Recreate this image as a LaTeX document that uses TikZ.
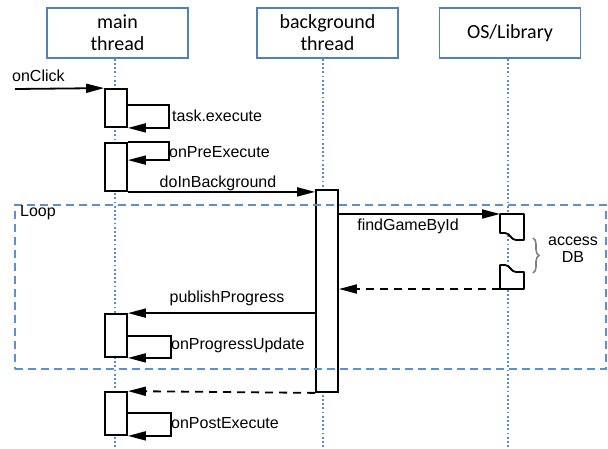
\documentclass[tikz,border=0pt]{standalone}
\usepackage{fontspec}
\setmainfont{Liberation Sans}
\newfontfamily\hdrfont{Carlito}
\usetikzlibrary{arrows.meta,decorations.pathreplacing,calc}
\definecolor{hdrblue}{RGB}{79,129,189}
\definecolor{lifeblue}{RGB}{83,141,213}
\definecolor{loopblue}{RGB}{91,145,210}
\definecolor{bracegray}{RGB}{128,128,128}
\begin{document}
\begin{tikzpicture}[x=1pt,y=-1pt,
  hdr/.style={draw=hdrblue,line width=1.6pt,fill=white,minimum width=141pt,minimum height=50pt,align=center,font=\hdrfont\fontsize{20}{22}\selectfont,inner sep=0pt},
  act/.style={draw=black,line width=1.8pt,fill=white,minimum width=22pt,inner sep=0pt},
  osact/.style={draw=black,line width=1.8pt,fill=white,line join=round},
  life/.style={draw=lifeblue,line width=1.8pt,dash pattern=on 1.8pt off 2.4pt},
  msg/.style={draw=black,line width=1.8pt,-{Triangle[length=18pt,width=9pt]}},
  ret/.style={msg,dash pattern=on 8pt off 6pt},
  lbl/.style={font=\fontsize{16}{17}\selectfont,inner sep=0pt},
  loopframe/.style={draw=loopblue,line width=1.8pt,dash pattern=on 8pt off 5pt,inner sep=0pt},
]
\useasboundingbox (0,0) rectangle (608,448);

% headers
\node[hdr] (main) at (117.5,33) {main\\thread};
\node[hdr] (bgt) at (327.5,33) {background\\thread};
\node[hdr] (os) at (510,33) {OS/Library};

% lifelines
\coordinate (mainend) at (115,448);
\coordinate (bgend) at (323,448);
\coordinate (osend) at (508,448);
\draw[life] (main.south -| mainend) -- (mainend);
\draw[life] (bgt.south -| bgend) -- (bgend);
\draw[life] (os.south -| osend) -- (osend);

% activations
\node[act,minimum height=38pt] (a1) at (116,108) {};
\node[act,minimum height=48pt] (a2) at (116,167) {};
\node[act,minimum height=202pt] (bg) at (327,291) {};
\node[act,minimum height=43pt] (a3) at (116,335.5) {};
\node[act,minimum height=43pt] (a4) at (116,413.5) {};

% OS activations
\draw[osact] (500,214) -- (524,214) -- (524,240) -- (516,240) .. controls (511,240) and (510,233) .. (505,233) -- (500,233) -- cycle;
\draw[osact] (500,289) -- (500,265) -- (505,265) .. controls (510,265) and (511,272) .. (516,272) -- (524,272) -- (524,289) -- cycle;
\coordinate (os1) at (500,214);
\coordinate (os2) at (500,289);

% messages
\coordinate (clk) at (15,89);
\draw[msg] (clk) -- (a1.north west);
\node[lbl,anchor=west] (lclick) at (12,76) {onClick};

\draw[msg] ([yshift=-17pt]a1.north east) -- ++(41,0) |- (a1.south east);
\node[lbl,anchor=west] (ltask) at (172,116) {task.execute};

\draw[msg] (a2.north east) -- ++(41,0) |- ([yshift=-18pt]a2.north east);
\node[lbl,anchor=west] (lpre) at (169,152) {onPreExecute};

\draw[msg] (a2.south east) -- (a2.south east -| bg.west);
\node[lbl] (ldo) at (218,183) {doInBackground};

\draw[msg] (bg.east |- os1) -- (os1);
\node[lbl] (lfind) at (408,226) {findGameById};

\draw[ret] (os2) -- (bg.east |- os2);

\draw[msg] (bg.west |- a3.north) -- (a3.north east);
\node[lbl] (lpub) at (227,298) {publishProgress};

\draw[msg] ([yshift=-23pt]a3.north east) -- ++(43,0) |- (a3.south east);
\node[lbl,anchor=west] (lprog) at (171,345) {onProgressUpdate};

\draw[ret] (bg.south west) -- (a4.north east);

\draw[msg] ([yshift=-22pt]a4.north east) -- ++(43,0) |- (a4.south east);
\node[lbl,anchor=west] (lpost) at (171,423) {onPostExecute};

% brace and label
\draw[draw=bracegray,line width=1.6pt,decorate,decoration={brace,amplitude=6pt}] (533,238) -- (533,273);
\node[lbl,align=center] (adb) at (573,250) {access\\DB};

% loop frame
\node[loopframe,minimum width=591pt,minimum height=164pt] (loop) at (310.5,287) {};
\node[lbl,anchor=west] (lloop) at (20,213) {Loop};
\end{tikzpicture}
\end{document}
